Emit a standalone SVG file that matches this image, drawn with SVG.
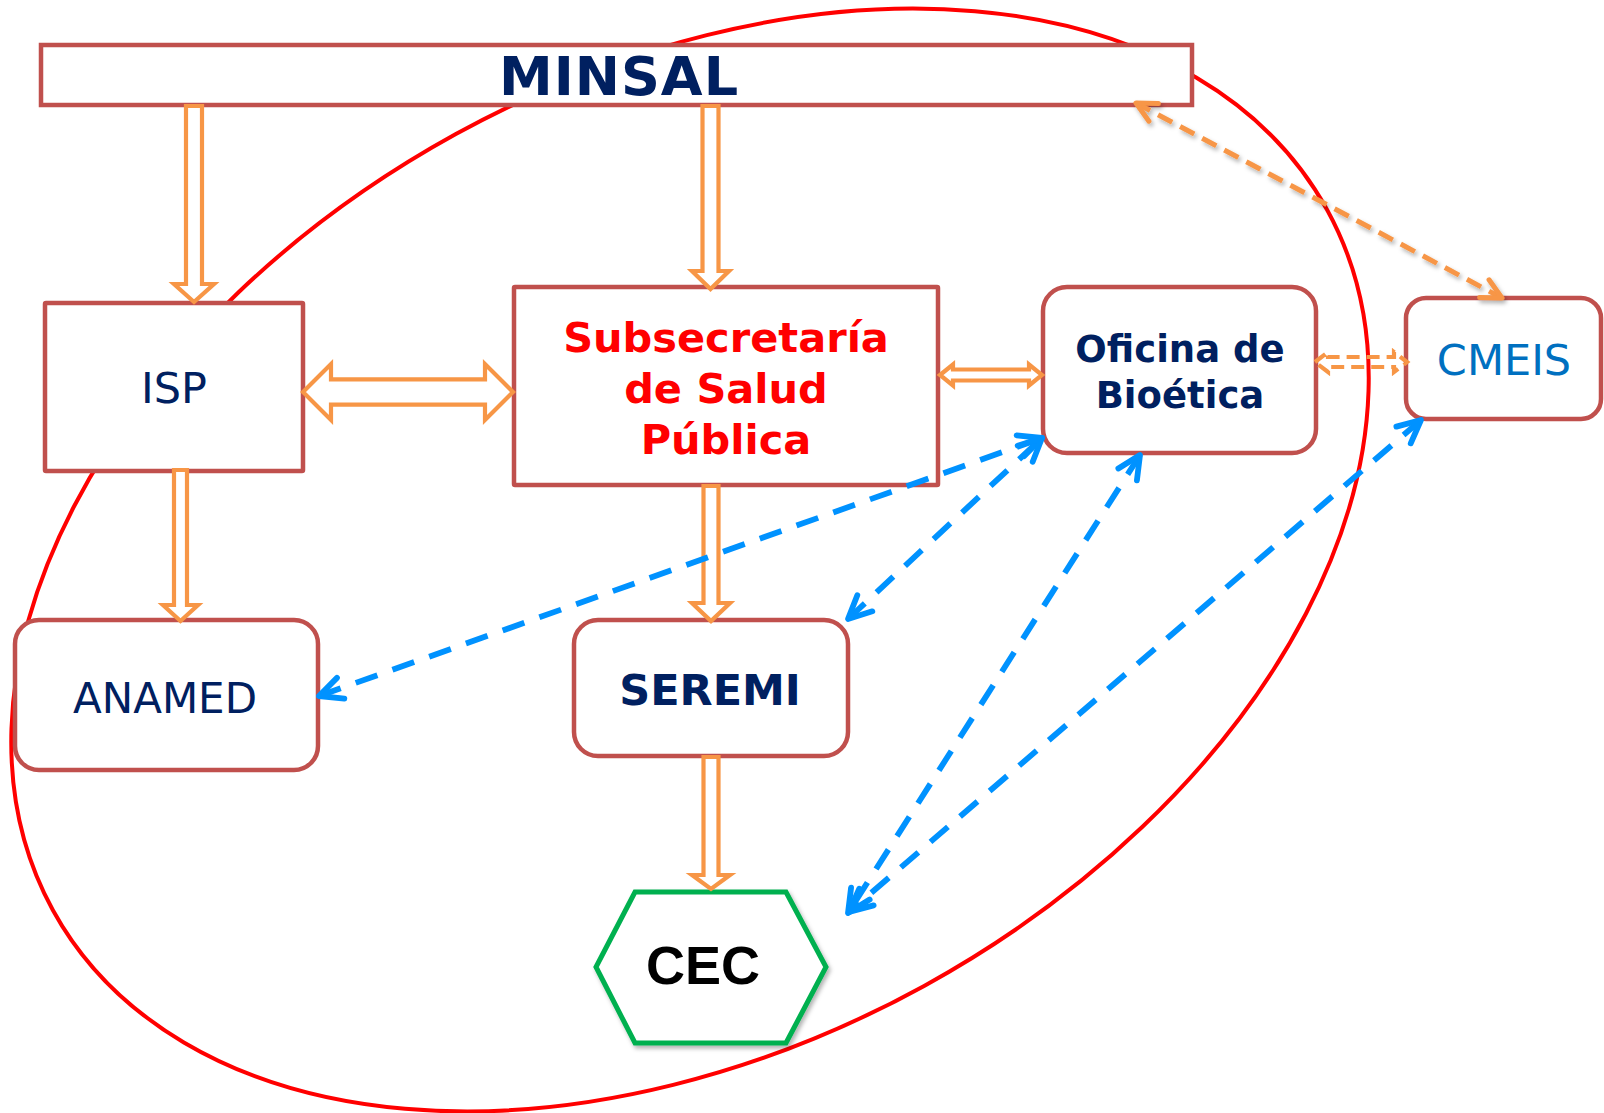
<svg xmlns="http://www.w3.org/2000/svg" width="1604" height="1113" viewBox="0 0 1604 1113">
<style>
.box{fill:#fff;stroke:#C0504D;stroke-width:4.5}
.t{font-family:"DejaVu Sans","Liberation Sans",sans-serif;text-anchor:middle}
.b{font-weight:bold}
.navy{fill:#002060}
.blk{fill:#fff;stroke:#F79646;stroke-width:4.2;stroke-linejoin:miter}
.blue{fill:none;stroke:#0092FF;stroke-width:5.8;stroke-dasharray:23 16;marker-start:url(#bh);marker-end:url(#bh)}
</style>
<defs>
<marker id="bh" markerUnits="userSpaceOnUse" orient="auto-start-reverse" refX="0" refY="0" markerWidth="40" markerHeight="40" overflow="visible">
<path d="M-23,-11 L0,0 L-23,11" fill="none" stroke="#0092FF" stroke-width="5.8" stroke-linecap="round" stroke-linejoin="round" stroke-dasharray="none"/>
</marker>
<marker id="oh" markerUnits="userSpaceOnUse" orient="auto-start-reverse" refX="0" refY="0" markerWidth="40" markerHeight="40" overflow="visible">
<path d="M-20,-10 L0,0 L-20,10" fill="none" stroke="#F79646" stroke-width="5" stroke-linecap="round" stroke-linejoin="round" stroke-dasharray="none"/>
</marker>
<filter id="sh" x="-20%" y="-20%" width="140%" height="140%">
<feDropShadow dx="2" dy="3" stdDeviation="2" flood-color="#000" flood-opacity="0.3"/>
</filter>
</defs>
<rect width="1604" height="1113" fill="#fff"/>
<ellipse cx="690" cy="560" rx="727" ry="486" transform="rotate(-28.8 690 560)" fill="none" stroke="#FF0000" stroke-width="4"/>
<g id="nodes">
<g id="minsal"><rect class="box" x="41" y="45" width="1151" height="60"/><text class="t b navy" x="619" y="95" font-size="54" letter-spacing="1">MINSAL</text></g>
<g id="isp"><rect class="box" x="45" y="303" width="258" height="168" rx="1"/><text class="t navy" x="174" y="403" font-size="43">ISP</text></g>
<g id="subsecretaria"><rect class="box" x="514" y="287" width="424" height="198" rx="1"/>
<text class="t b" fill="#FF0000" font-size="41.5"><tspan x="726" y="352">Subsecretaría</tspan><tspan x="726" y="402.5">de Salud</tspan><tspan x="726" y="453.5">Pública</tspan></text></g>
<g id="oficina"><rect class="box" x="1043" y="287" width="273" height="166" rx="24"/>
<text class="t b navy" font-size="37"><tspan x="1180" y="362">Oficina de</tspan><tspan x="1180" y="408">Bioética</tspan></text></g>
<g id="cmeis"><rect class="box" x="1406" y="298" width="195" height="121" rx="20"/><text class="t" fill="#0070C0" x="1504" y="375" font-size="43">CMEIS</text></g>
<g id="anamed"><rect class="box" x="15" y="620" width="303" height="150" rx="24"/><text class="t navy" x="165" y="713" font-size="42">ANAMED</text></g>
<g id="seremi"><rect class="box" x="574" y="620" width="274" height="136" rx="24"/><text class="t b navy" x="710" y="705" font-size="43">SEREMI</text></g>
<g id="cec"><polygon points="635,892 786,892 826,967 786,1043 635,1043 596,967" fill="#fff" stroke="#00B050" stroke-width="5" filter="url(#sh)"/>
<text x="703" y="984" font-family="'Liberation Sans',Arial,sans-serif" font-weight="bold" font-size="54" text-anchor="middle" fill="#000">CEC</text></g>
</g>
<g id="connectors">
<path class="blk" d="M186,106 L186,284 L174,284 L194,302 L214,284 L202,284 L202,106 Z"/>
<path class="blk" d="M702.5,106 L702.5,271 L692,271 L710.5,289 L729,271 L718.5,271 L718.5,106 Z"/>
<path class="blk" d="M174,470 L174,605 L163,605 L180.5,621 L198,605 L187,605 L187,470 Z"/>
<path class="blk" d="M703.5,486 L703.5,603 L692,603 L711,621 L730,603 L718.5,603 L718.5,486 Z"/>
<path class="blk" d="M703.5,757 L703.5,875 L692,875 L711,889 L730,875 L718.5,875 L718.5,757 Z"/>
<path class="blk" d="M303,392 L331,364 L331,379.3 L485,379.3 L485,364 L513,392 L485,420 L485,404.7 L331,404.7 L331,420 Z"/>
<path class="blk" d="M940,375 L953,364.5 L953,369.5 L1029,369.5 L1029,364.5 L1042,375 L1029,385.5 L1029,380.5 L953,380.5 L953,385.5 Z"/>
<path d="M1315,362 L1328,352 L1328,357 L1394,357 L1394,352 L1407,362 L1394,372 L1394,367 L1328,367 L1328,372 Z" fill="none" stroke="#F79646" stroke-width="4.2" stroke-dasharray="13 7"/>
<line x1="1136" y1="103" x2="1502" y2="298" fill="none" stroke="#F79646" stroke-width="5" stroke-dasharray="16 9" marker-start="url(#oh)" marker-end="url(#oh)" filter="url(#sh)"/>
<line class="blue" x1="319" y1="696" x2="1042" y2="438"/>
<line class="blue" x1="848" y1="619" x2="1042" y2="438"/>
<line class="blue" x1="1140" y1="455" x2="848" y2="913"/>
<line class="blue" x1="1421" y1="420" x2="849" y2="912"/>
</g>
</svg>
